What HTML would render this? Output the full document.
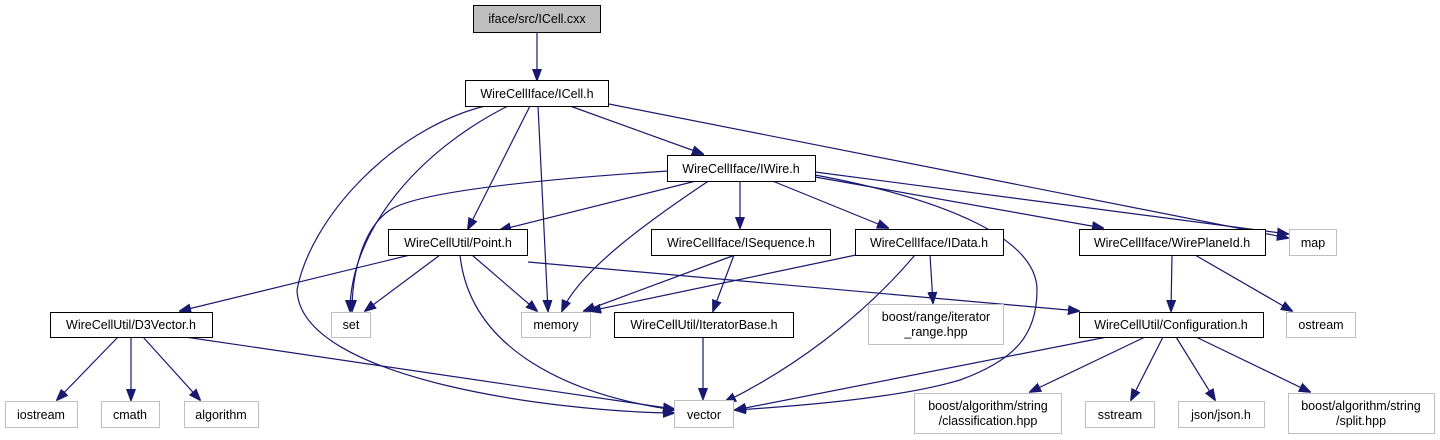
<!DOCTYPE html>
<html><head><meta charset="utf-8"><style>
html,body{margin:0;padding:0;background:#fff;}
svg{display:block;}
text{font-family:"Liberation Sans",Arial,sans-serif;font-size:12.5px;fill:#000;}
</style></head><body>
<svg width="1440" height="440" viewBox="0 0 1440 440" xmlns="http://www.w3.org/2000/svg">
<defs>
<marker id="a" viewBox="0 0 12 10" refX="11" refY="5" markerWidth="12" markerHeight="10" markerUnits="userSpaceOnUse" orient="auto">
<path d="M0,0.5 L12,5 L0,9.5 z" fill="#191970" stroke="#191970"/>
</marker>
</defs>
<g fill="none" stroke="#191970" stroke-width="1.2" marker-end="url(#a)">
<path d="M537,32 L537,80"/>
<path d="M485,106 C390,130 310,220 297,290 C300,380 560,412 674,413"/>
<path d="M508,106 C420,150 350,230 350,311"/>
<path d="M530,106 L468,229"/>
<path d="M538,106 L548,311"/>
<path d="M570,106 L703,154"/>
<path d="M609,104 L1288,238"/>
<path d="M668,171 C560,178 420,190 390,210 C360,230 352,280 352,311"/>
<path d="M700,180 L500,230"/>
<path d="M710,180 C650,220 580,270 562,311"/>
<path d="M740,180 L740,228"/>
<path d="M770,180 L888,228"/>
<path d="M815,175 C950,200 1037,240 1037,290 C1037,335 1015,360 960,380 C900,398 800,406 735,410"/>
<path d="M815,177 L1103,228"/>
<path d="M815,172 L1288,234"/>
<path d="M410,255 L180,311"/>
<path d="M440,255 L365,311"/>
<path d="M460,255 C470,350 570,395 674,410"/>
<path d="M472,255 L537,311"/>
<path d="M528,262 L1079,311"/>
<path d="M735,255 L584,311"/>
<path d="M734,255 L713,311"/>
<path d="M856,255 L590,311"/>
<path d="M915,255 C860,320 790,370 725,402"/>
<path d="M930,255 L933,303"/>
<path d="M1172,255 L1171,311"/>
<path d="M1195,255 L1292,311"/>
<path d="M703,337 L703,399"/>
<path d="M118,337 L57,400"/>
<path d="M131,337 L131,400"/>
<path d="M143,337 L200,400"/>
<path d="M185,337 L674,409"/>
<path d="M1107,337 L735,410"/>
<path d="M1145,337 L1030,392"/>
<path d="M1163,337 L1131,400"/>
<path d="M1176,337 L1215,400"/>
<path d="M1196,337 L1310,392"/>
</g>
<g stroke-width="1">
<rect x="473.5" y="5.5" width="127" height="27" fill="#bfbfbf" stroke="#000"/>
<rect x="465.5" y="80.5" width="143" height="26" fill="#fff" stroke="#000"/>
<rect x="667.5" y="155.5" width="148" height="26" fill="#fff" stroke="#000"/>
<rect x="388.5" y="229.5" width="139" height="26" fill="#fff" stroke="#000"/>
<rect x="651.5" y="229.5" width="179" height="26" fill="#fff" stroke="#000"/>
<rect x="855.5" y="229.5" width="148" height="26" fill="#fff" stroke="#000"/>
<rect x="1079.5" y="229.5" width="186" height="26" fill="#fff" stroke="#000"/>
<rect x="1289.5" y="229.5" width="47" height="26" fill="#fff" stroke="#bfbfbf"/>
<rect x="50.5" y="312.5" width="162" height="25" fill="#fff" stroke="#000"/>
<rect x="331.5" y="312.5" width="39" height="25" fill="#fff" stroke="#bfbfbf"/>
<rect x="521.5" y="312.5" width="69" height="25" fill="#fff" stroke="#bfbfbf"/>
<rect x="614.5" y="312.5" width="179" height="25" fill="#fff" stroke="#000"/>
<rect x="868.5" y="304.5" width="135" height="40" fill="#fff" stroke="#bfbfbf"/>
<rect x="1079.5" y="312.5" width="184" height="25" fill="#fff" stroke="#000"/>
<rect x="1286.5" y="312.5" width="69" height="25" fill="#fff" stroke="#bfbfbf"/>
<rect x="5.5" y="401.5" width="72" height="26" fill="#fff" stroke="#bfbfbf"/>
<rect x="101.5" y="401.5" width="58" height="26" fill="#fff" stroke="#bfbfbf"/>
<rect x="184.5" y="401.5" width="74" height="26" fill="#fff" stroke="#bfbfbf"/>
<rect x="674.5" y="400.5" width="59" height="27" fill="#fff" stroke="#bfbfbf"/>
<rect x="914.5" y="393.5" width="147" height="40" fill="#fff" stroke="#bfbfbf"/>
<rect x="1085.5" y="401.5" width="69" height="26" fill="#fff" stroke="#bfbfbf"/>
<rect x="1178.5" y="401.5" width="86" height="26" fill="#fff" stroke="#bfbfbf"/>
<rect x="1288.5" y="393.5" width="146" height="40" fill="#fff" stroke="#bfbfbf"/>
</g>
<g text-anchor="middle">
<text x="537" y="23">iface/src/ICell.cxx</text>
<text x="537" y="98">WireCellIface/ICell.h</text>
<text x="741" y="173">WireCellIface/IWire.h</text>
<text x="458" y="247">WireCellUtil/Point.h</text>
<text x="741" y="247">WireCellIface/ISequence.h</text>
<text x="929" y="247">WireCellIface/IData.h</text>
<text x="1172" y="247">WireCellIface/WirePlaneId.h</text>
<text x="1313" y="247">map</text>
<text x="131" y="329">WireCellUtil/D3Vector.h</text>
<text x="351" y="329">set</text>
<text x="556" y="329">memory</text>
<text x="704" y="329">WireCellUtil/IteratorBase.h</text>
<text x="936" y="321">boost/range/iterator</text>
<text x="936" y="336">_range.hpp</text>
<text x="1171" y="329">WireCellUtil/Configuration.h</text>
<text x="1321" y="329">ostream</text>
<text x="41" y="419">iostream</text>
<text x="130" y="419">cmath</text>
<text x="221" y="419">algorithm</text>
<text x="704" y="419">vector</text>
<text x="988" y="410">boost/algorithm/string</text>
<text x="988" y="425">/classification.hpp</text>
<text x="1120" y="419">sstream</text>
<text x="1221" y="419">json/json.h</text>
<text x="1361" y="410">boost/algorithm/string</text>
<text x="1361" y="425">/split.hpp</text>
</g>
</svg>
</body></html>
